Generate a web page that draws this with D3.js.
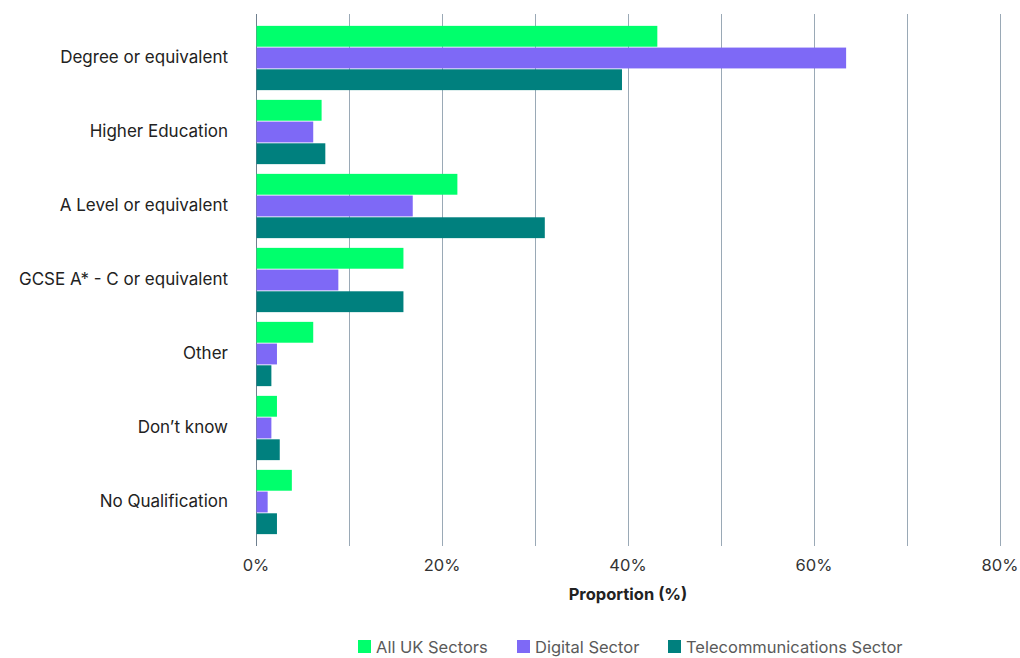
<!DOCTYPE html>
<html lang="en">
<head>
    <meta charset="UTF-8">
    <title>Highest qualification by sector</title>
    <script src="https://d3js.org/d3.v7.min.js"></script>
    <style>
        body { margin: 0; background: #fff; }
        svg { font-family: Inter, "Noto Sans", sans-serif; }
        .cat-label { font-size: 17px; fill: #222; }
        .tick-label { font-size: 16.5px; fill: #333; }
        .axis-title { font-size: 16.5px; font-weight: bold; fill: #222; }
        .legend-text { font-size: 16.5px; fill: #5a5a5a; }
    </style>
</head>
<body>
<svg id="chart" width="1020" height="658"></svg>
<script>
    // Data (%)
    const categories = ['Degree or equivalent', 'Higher Education', 'A Level or equivalent',
        'GCSE A* - C or equivalent', 'Other', 'Don\u2019t know', 'No Qualification'];
    const seriesNames = ['All UK Sectors', 'Digital Sector', 'Telecommunications Sector'];
    const allUk   = [43.1, 7.0, 21.6, 15.8, 6.1, 2.2, 3.8];
    const digital = [63.4, 6.1, 16.8, 8.8, 2.2, 1.6, 1.2];
    const telecom = [39.3, 7.4, 31.0, 15.8, 1.6, 2.5, 2.2];
    const xTicks = [0, 20, 40, 60, 80];
    const gridTicks = [0, 10, 20, 30, 40, 50, 60, 70, 80];

    const colors = ['#00ff6c', '#7e69f6', '#00807e'];
    const seriesValues = [allUk, digital, telecom];

    const rows = categories.map((c, i) => ({
        cat: c,
        values: seriesNames.map((s, j) => ({ series: s, value: seriesValues[j][i], idx: j }))
    }));

    const svg = d3.select('#chart');

    const x = d3.scaleLinear().domain([0, 80]).range([256, 1000]);
    const y0 = d3.scaleBand().domain(categories).range([21, 539]).paddingInner(0.108).paddingOuter(0.054);
    const y1 = d3.scaleBand().domain(seriesNames).range([0, y0.bandwidth()]).padding(0.04);

    // vertical gridlines
    svg.append('g').selectAll('line')
        .data(gridTicks)
        .enter().append('line')
        .attr('x1', d => Math.round(x(d)) + 0.5)
        .attr('x2', d => Math.round(x(d)) + 0.5)
        .attr('y1', 14)
        .attr('y2', 546)
        .attr('stroke', d => d === 0 ? '#6f7f8f' : '#9aa9b6')
        .attr('stroke-width', 1);

    // bars
    const groups = svg.append('g').selectAll('g')
        .data(rows)
        .enter().append('g')
        .attr('transform', d => `translate(0,${y0(d.cat)})`);

    groups.selectAll('rect')
        .data(d => d.values)
        .enter().append('rect')
        .attr('x', x(0) + 0.5)
        .attr('y', d => y1(d.series))
        .attr('width', d => x(d.value) - x(0))
        .attr('height', y1.bandwidth())
        .attr('fill', d => colors[d.idx]);

    // category labels
    svg.append('g').selectAll('text')
        .data(categories)
        .enter().append('text')
        .attr('class', 'cat-label')
        .attr('x', 228)
        .attr('y', d => y0(d) + y0.bandwidth() / 2 - 1)
        .attr('dy', '0.35em')
        .attr('text-anchor', 'end')
        .text(d => d);

    // x tick labels
    svg.append('g').selectAll('text')
        .data(xTicks)
        .enter().append('text')
        .attr('class', 'tick-label')
        .attr('x', d => x(d))
        .attr('y', 571)
        .attr('text-anchor', 'middle')
        .text(d => d + '%');

    svg.append('text')
        .attr('class', 'axis-title')
        .attr('x', 628)
        .attr('y', 600)
        .attr('text-anchor', 'middle')
        .text('Proportion (%)');

    // legend
    const legendX = [358, 517, 668];
    const legend = svg.append('g').selectAll('g')
        .data(seriesNames)
        .enter().append('g')
        .attr('transform', (d, i) => `translate(${legendX[i]},640)`);

    legend.append('rect')
        .attr('width', 13)
        .attr('height', 13)
        .attr('fill', (d, i) => colors[i]);

    legend.append('text')
        .attr('class', 'legend-text')
        .attr('x', 18)
        .attr('y', 7)
        .attr('dy', '0.35em')
        .text(d => d);
</script>
</body>
</html>
